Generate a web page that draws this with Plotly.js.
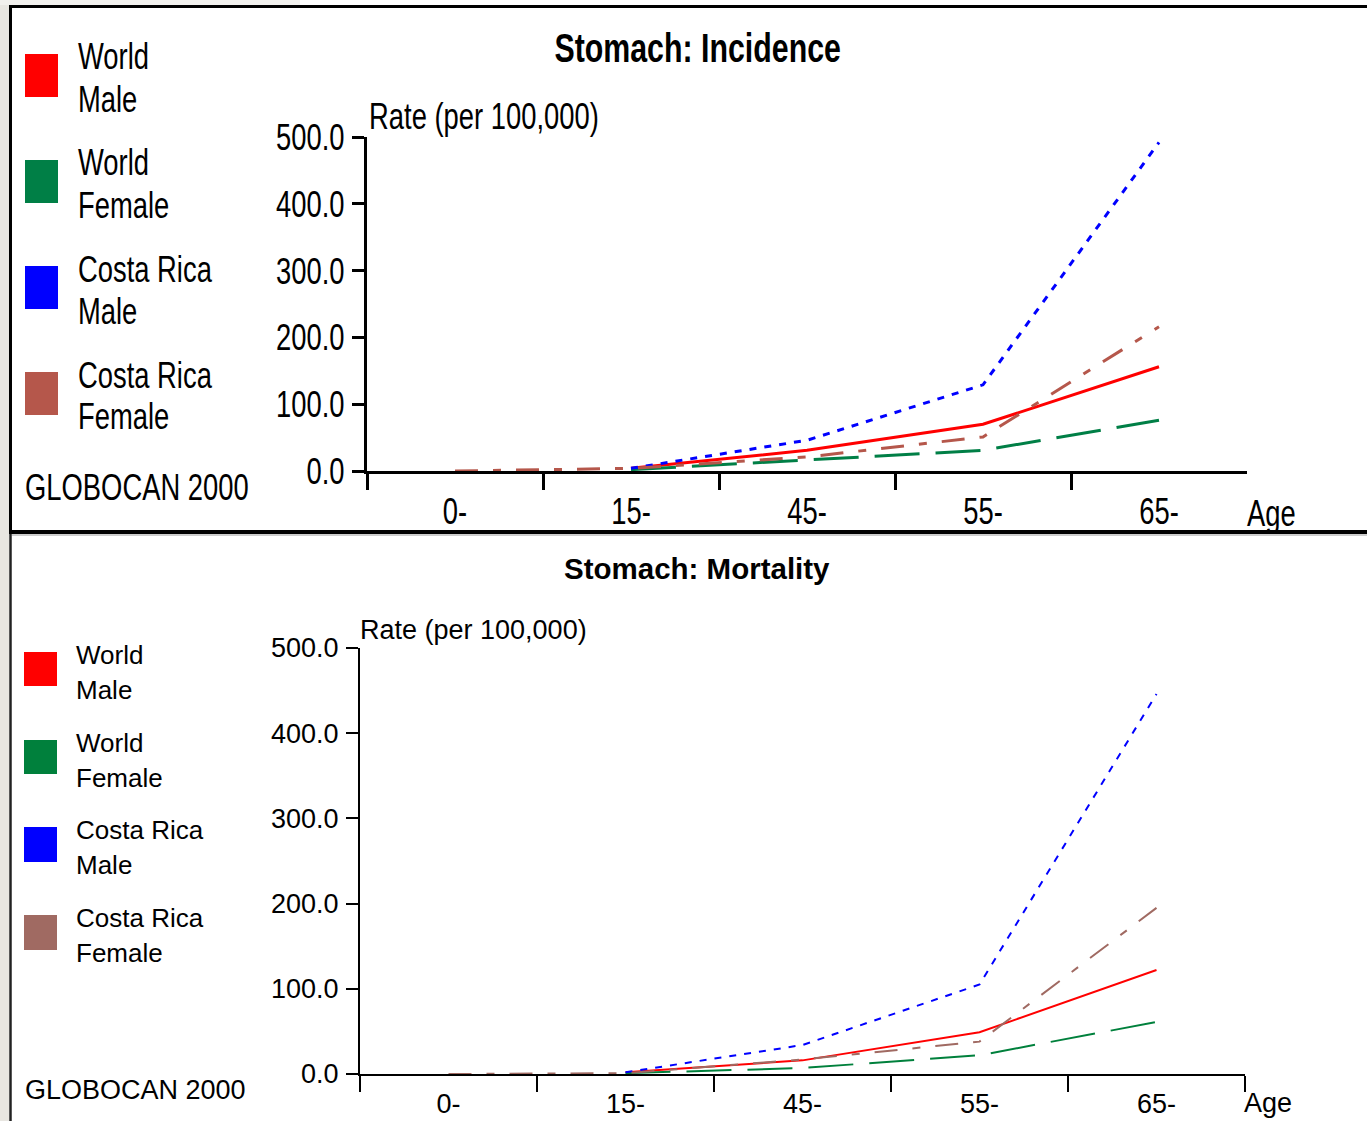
<!DOCTYPE html>
<html>
<head>
<meta charset="utf-8">
<script src="https://cdn.plot.ly/plotly-3.0.1.min.js"></script>
<style>
  html, body { margin: 0; padding: 0; background: #ffffff; }
  #chart { width: 1367px; height: 1121px; }
</style>
</head>
<body>
<div id="chart"></div>
<script>
// ---------- data ----------
const ageGroups = ['0-', '15-', '45-', '55-', '65-'];
const yTickValues = [0, 100, 200, 300, 400, 500];
const yTickLabels = ['0.0', '100.0', '200.0', '300.0', '400.0', '500.0'];
const seriesNames = ['World Male', 'World Female', 'Costa Rica Male', 'Costa Rica Female'];
const legendLines = [['World', 'Male'], ['World', 'Female'], ['Costa Rica', 'Male'], ['Costa Rica', 'Female']];

// Stomach: Incidence (rate per 100,000)
const incWorldMale       = [null, 4, 31, 70, 156];
const incWorldFemale     = [null, 2, 17, 31, 76];
const incCostaRicaMale   = [null, 4, 46, 129, 492];
const incCostaRicaFemale = [0, 4, 21, 51, 216];

// Stomach: Mortality (rate per 100,000)
const morWorldMale       = [null, 2, 16, 49, 122];
const morWorldFemale     = [null, 1, 7, 22, 61];
const morCostaRicaMale   = [null, 2, 34, 105, 446];
const morCostaRicaFemale = [0, 1, 17, 38, 195];

const titles = ['Stomach: Incidence', 'Stomach: Mortality'];
const yTitle = 'Rate (per 100,000)';
const xTitle = 'Age';
const sourceLabel = 'GLOBOCAN 2000';

// ---------- styling ----------
const W = 1367, H = 1121;
const px = x => x / W;
const py = y => 1 - y / H;

const SANS = 'Liberation Sans, Arial, sans-serif';
const CONDENSE = 0.74;   // horizontal squeeze for the narrow bitmap-like font of the upper panel

const topColors = ['#ff0000', '#007f46', '#0000ff', '#b5574b'];
const botColors = ['#ff0000', '#00803c', '#0000ff', '#a06a62'];
const dashes = ['solid', '45px,16px', '7px,8px', '23px,15px,8px,15px'];

const incData = [incWorldMale, incWorldFemale, incCostaRicaMale, incCostaRicaFemale];
const morData = [morWorldMale, morWorldFemale, morCostaRicaMale, morCostaRicaFemale];

const traces = [];
incData.forEach((vals, i) => traces.push({
  type: 'scatter', mode: 'lines', x: ageGroups, y: vals, name: seriesNames[i],
  xaxis: 'x', yaxis: 'y', connectgaps: false,
  line: { color: topColors[i], width: 3, dash: dashes[i] }, hoverinfo: 'skip'
}));
morData.forEach((vals, i) => traces.push({
  type: 'scatter', mode: 'lines', x: ageGroups, y: vals, name: seriesNames[i],
  xaxis: 'x2', yaxis: 'y2', connectgaps: false,
  line: { color: botColors[i], width: 2, dash: dashes[i] }, hoverinfo: 'skip'
}));

function xAxisDef(domain, lw, font, standoff) {
  return {
    domain: domain, type: 'category', categoryarray: ageGroups, categoryorder: 'array',
    range: [-0.5, 4.5], tickson: 'boundaries', ticks: 'outside', ticklen: 16,
    tickwidth: lw, tickcolor: '#000', showline: true, linewidth: lw, linecolor: '#000',
    showgrid: false, zeroline: false, tickfont: font, fixedrange: true, ticklabelstandoff: standoff
  };
}
function yAxisDef(domain, lw, font, standoff) {
  return {
    domain: domain, range: [0, 500], tickmode: 'array', tickvals: yTickValues, ticktext: yTickLabels,
    ticks: 'outside', ticklen: 12, tickwidth: lw, tickcolor: '#000', showline: true,
    linewidth: lw, linecolor: '#000', showgrid: false, zeroline: false, tickfont: font,
    fixedrange: true, ticklabelstandoff: standoff
  };
}

const topFont = { family: SANS, size: 37, color: '#000' };
const botFont = { family: SANS, size: 26, color: '#000' };
const botFont27 = { family: SANS, size: 27, color: '#000' };

const annotations = [];
const condensed = [];  // [annotation index, anchor]
function ann(text, x, y, font, xanchor, squeeze) {
  annotations.push({
    text: text, x: px(x), y: py(y), xref: 'paper', yref: 'paper',
    xanchor: xanchor || 'left', yanchor: 'middle', showarrow: false, font: font
  });
  if (squeeze) condensed.push([annotations.length - 1, xanchor || 'left']);
}

// titles
ann('<b>' + titles[0] + '</b>', 697, 48, { family: SANS, size: 41, color: '#000' }, 'center', true);
ann('<b>' + titles[1] + '</b>', 697, 568, { family: SANS, size: 29.5, color: '#000' }, 'center', false);
// axis titles
ann(yTitle, 367, 116, topFont, 'left', true);
ann(yTitle, 358, 630, botFont27, 'left', false);
ann(xTitle, 1245, 513, topFont, 'left', true);
ann(xTitle, 1242, 1103, botFont27, 'left', false);
// source
ann(sourceLabel, 23, 487, topFont, 'left', true);
ann(sourceLabel, 23, 1090, botFont27, 'left', false);

const shapes = [];
// legends
const topSq = [[54, 97], [160, 203], [266, 309], [372, 415]];
const botSq = [[652, 686], [740, 774], [827, 862], [915, 950]];
legendLines.forEach((lines, i) => {
  shapes.push({ type: 'rect', xref: 'paper', yref: 'paper', x0: px(25), x1: px(58),
    y0: py(topSq[i][1]), y1: py(topSq[i][0]), fillcolor: topColors[i], line: { width: 0 } });
  ann(lines[0], 76, topSq[i][0] + 3, topFont, 'left', true);
  ann(lines[1], 76, topSq[i][0] + 45, topFont, 'left', true);
  shapes.push({ type: 'rect', xref: 'paper', yref: 'paper', x0: px(24), x1: px(57),
    y0: py(botSq[i][1]), y1: py(botSq[i][0]), fillcolor: botColors[i], line: { width: 0 } });
  ann(lines[0], 74, botSq[i][0] + 3, botFont, 'left', false);
  ann(lines[1], 74, botSq[i][0] + 38, botFont, 'left', false);
});

// frame
shapes.push({ type: 'rect', xref: 'paper', yref: 'paper', x0: 0, x1: px(9), y0: 0, y1: 1,
  fillcolor: '#e8e6e1', line: { width: 0 }, layer: 'below' });
shapes.push({ type: 'rect', xref: 'paper', yref: 'paper', x0: 0, x1: px(300), y0: py(5), y1: 1,
  fillcolor: '#f1f0ed', line: { width: 0 }, layer: 'below' });
shapes.push({ type: 'line', xref: 'paper', yref: 'paper', x0: px(9), x1: 1, y0: py(6.5), y1: py(6.5),
  line: { color: '#000', width: 3 } });
shapes.push({ type: 'line', xref: 'paper', yref: 'paper', x0: px(10.5), x1: px(10.5), y0: py(5), y1: py(534),
  line: { color: '#000', width: 3 } });
shapes.push({ type: 'line', xref: 'paper', yref: 'paper', x0: px(9), x1: 1, y0: py(532), y1: py(532),
  line: { color: '#000', width: 4 } });
shapes.push({ type: 'line', xref: 'paper', yref: 'paper', x0: px(12), x1: 1, y0: py(535), y1: py(535),
  line: { color: '#9a9a9a', width: 1 } });
shapes.push({ type: 'line', xref: 'paper', yref: 'paper', x0: px(10.5), x1: px(10.5), y0: 0, y1: py(534),
  line: { color: '#222', width: 2.5 } });

const layout = {
  width: W, height: H, margin: { l: 0, r: 0, t: 0, b: 0, pad: 0 },
  paper_bgcolor: '#ffffff', plot_bgcolor: 'rgba(0,0,0,0)', showlegend: false,
  xaxis: xAxisDef([px(367), px(1247)], 3, topFont, 6),
  yaxis: yAxisDef([py(471), py(137)], 3, topFont, 0),
  xaxis2: xAxisDef([px(360), px(1245)], 2, botFont27, 5),
  yaxis2: yAxisDef([py(1074), py(648)], 2, botFont27, 2),
  annotations: annotations, shapes: shapes
};
layout.xaxis.anchor = 'y';
layout.yaxis.anchor = 'x';
layout.xaxis2.anchor = 'y2';
layout.yaxis2.anchor = 'x2';

function squeeze(el, anchor) {
  const b = el.getBBox();
  const x0 = anchor === 'left' ? b.x : anchor === 'right' ? b.x + b.width : b.x + b.width / 2;
  const prev = el.getAttribute('transform') || '';
  el.setAttribute('transform', prev + ' translate(' + x0 + ',0) scale(' + CONDENSE + ',1) translate(' + (-x0) + ',0)');
}

Plotly.newPlot('chart', traces, layout, { staticPlot: true, displayModeBar: false }).then(gd => {
  condensed.forEach(([idx, anchor]) => {
    const t = gd.querySelector('.annotation[data-index="' + idx + '"] text.annotation-text');
    if (t) squeeze(t, anchor);
  });
  gd.querySelectorAll('.subplot.xy .xtick text').forEach(t => squeeze(t, 'center'));
  gd.querySelectorAll('.subplot.xy .ytick text').forEach(t => squeeze(t, 'right'));
});
</script>
</body>
</html>
